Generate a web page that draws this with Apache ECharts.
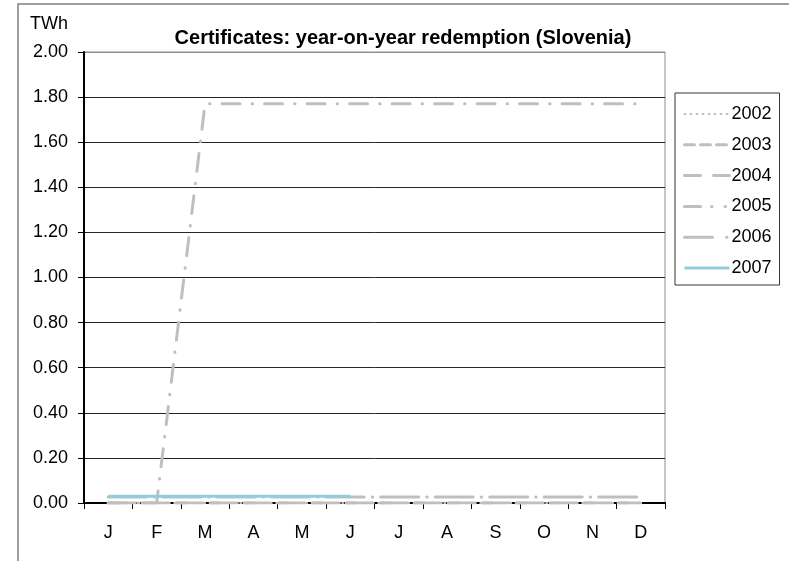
<!DOCTYPE html>
<html>
<head>
<meta charset="utf-8">
<script src="https://cdn.jsdelivr.net/npm/echarts@6/dist/echarts.min.js"></script>
<style>
html,body{margin:0;padding:0;background:#fff;}
#chart{width:789px;height:561px;}
</style>
</head>
<body>
<div id="chart"></div>
<script>
const months = ['J','F','M','A','M','J','J','A','S','O','N','D'];
const yTicks = ['0.00','0.20','0.40','0.60','0.80','1.00','1.20','1.40','1.60','1.80','2.00'];
const seriesNames = ['2002','2003','2004','2005','2006','2007'];
const v2002 = [0,0,0,0,0,0,0,0,0,0,0,0];
const v2003 = [0,0,0,0,0,0,0,0,0,0,0,0];
const v2004 = [0,0,0,0,0,0,0,0,0,0,0,0];
const v2005 = [0,0,1.77,1.77,1.77,1.77,1.77,1.77,1.77,1.77,1.77,1.77];
const v2006 = [0.027,0.027,0.027,0.027,0.027,0.027,0.027,0.027,0.027,0.027,0.027,0.027];
const v2007 = [0.03,0.03,0.03,0.03,0.03,0.03];

const gray = '#BFBFBF';
const styles = [
  {color: gray, width: 2, type: [1, 5], cap: 'round'},
  {color: gray, width: 3, type: [10, 7], cap: 'round'},
  {color: gray, width: 3, type: [16, 18], cap: 'round'},
  {color: gray, width: 3, type: [18, 12, 0.5, 12], cap: 'round'},
  {color: gray, width: 3, type: [38, 8, 0.5, 8], cap: 'round'},
  {color: '#93CDDD', width: 3, type: 'solid', cap: 'butt'}
];
const legendDash = [
  [1, 5],
  [10, 6],
  [16, 13],
  [16, 11, 0.5, 13, 0.5, 20],
  [28, 14, 0.5, 20],
  'solid'
];
const values = [v2002, v2003, v2004, v2005, v2006, v2007];

const chart = echarts.init(document.getElementById('chart'), null, {renderer: 'canvas'});
const font = 'Liberation Sans, Arial, sans-serif';
const gridColors = [];
for (let i = 0; i < yTicks.length; i++) gridColors.push(i === yTicks.length - 1 ? '#8c8c8c' : '#262626');

chart.setOption({
  animation: false,
  backgroundColor: '#fff',
  textStyle: {fontFamily: font},
  title: {
    text: 'Certificates: year-on-year redemption (Slovenia)',
    left: 403, top: 28, padding: 0, textAlign: 'center',
    textStyle: {fontFamily: font, fontWeight: 'bold', fontSize: 20, color: '#000'}
  },
  graphic: [
    {type: 'rect', shape: {x: 18, y: 4, width: 800, height: 600},
     style: {fill: 'none', stroke: '#808080', lineWidth: 1.5}, z: -1, silent: true},
    {type: 'text', x: 30, y: 15, style: {text: 'TWh', font: '18px ' + font, fill: '#000'}}
  ],
  grid: {left: 84, right: 124, top: 52, bottom: 58, show: true, borderColor: '#8c8c8c', borderWidth: 1},
  legend: {
    orient: 'vertical', left: 675, top: 93,
    padding: [12, 8, 8, 8], itemGap: 12.8,
    itemWidth: 45, itemHeight: 17.5,
    borderColor: '#333', borderWidth: 1,
    itemStyle: {opacity: 0},
    textStyle: {fontFamily: font, fontSize: 18, color: '#000', padding: [0, 0, 0, -3]},
    data: seriesNames.map((n, i) => ({name: n,
      itemStyle: {opacity: 0},
      lineStyle: {color: styles[i].color, width: styles[i].width, type: legendDash[i], cap: styles[i].cap}}))
  },
  xAxis: {
    type: 'category', data: months, boundaryGap: true,
    axisLine: {lineStyle: {color: '#000', width: 2}},
    axisTick: {show: true, interval: 0, length: 6, lineStyle: {color: '#000', width: 1}},
    axisLabel: {interval: 0, margin: 21, fontSize: 18, color: '#000', fontFamily: font},
    splitLine: {show: false}
  },
  yAxis: {
    type: 'value', min: 0, max: 2, interval: 0.2,
    axisLine: {show: true, lineStyle: {color: '#000', width: 2}},
    axisTick: {show: true, length: 6, lineStyle: {color: '#000', width: 1}},
    axisLabel: {margin: 16, fontSize: 18, color: '#000', fontFamily: font,
      formatter: (v) => yTicks[Math.round(v / 0.2)]},
    splitLine: {show: true, lineStyle: {color: gridColors, width: 1}}
  },
  series: seriesNames.map((n, i) => ({
    name: n, type: 'line', data: values[i], symbol: 'none', smooth: false,
    lineStyle: styles[i], itemStyle: {color: styles[i].color},
    z: i === 5 ? 5 : 3
  }))
});
</script>
</body>
</html>
